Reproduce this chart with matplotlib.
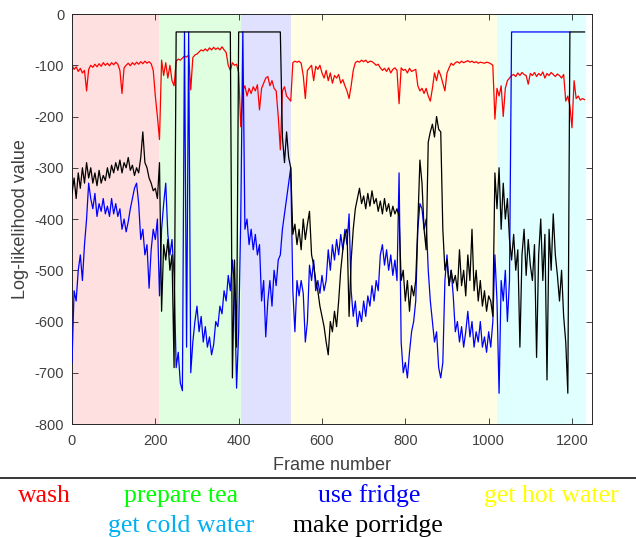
import numpy as np
import matplotlib
matplotlib.use('Agg')
import matplotlib.pyplot as plt
from matplotlib.lines import Line2D

# Frame number: one value every 5 frames
frame_step = 5

# Activity segments (start frame, end frame) and their background colour
segments = [(0, 209), (209, 406), (406, 526), (526, 1019), (1019, 1233)]
segment_colors = ['#ffe0e0', '#e0ffe0', '#e0e0ff', '#fffde3', '#e0ffff']

# Legend labels shown under the chart
labels = ['wash', 'prepare tea', 'use fridge', 'get hot water', 'get cold water', 'make porridge']
label_colors = ['#ff0000', '#00ff00', '#0000ff', '#ffff00', '#00b0f0', '#000000']

# Log-likelihood of the "wash" model
wash = [
    -100, -108, -103, -112, -106, -115, -110, -150, -108, -100,
    -104, -98, -103, -97, -102, -95, -100, -96, -101, -95,
    -99, -94, -98, -110, -155, -105, -100, -96, -101, -95,
    -99, -94, -98, -93, -97, -92, -96, -93, -97, -110,
    -160, -200, -245, -90, -120, -95, -125, -100, -130, -140,
    -92, -88, -90, -86, -82, -84, -80, -148, -85, -80,
    -78, -74, -70, -72, -68, -72, -66, -70, -65, -69,
    -66, -70, -64, -70, -75, -100, -110, -95, -100, -98,
    -114, -220, -150, -140, -160, -145, -155, -142, -150, -138,
    -187, -145, -135, -125, -122, -140, -130, -145, -150, -200,
    -265, -150, -142, -160, -165, -170, -95, -92, -94, -92,
    -96, -120, -165, -110, -105, -100, -130, -102, -108, -100,
    -115, -125, -110, -130, -115, -135, -120, -125, -118, -135,
    -128, -140, -150, -165, -140, -110, -95, -92, -94, -90,
    -93, -90, -95, -92, -93, -96, -100, -98, -105, -110,
    -106, -112, -105, -115, -108, -105, -110, -175, -105, -110,
    -108, -115, -106, -112, -110, -108, -140, -150, -145, -155,
    -145, -160, -170, -145, -115, -130, -110, -120, -135, -150,
    -115, -105, -96, -100, -95, -93, -96, -92, -95, -93,
    -91, -94, -92, -95, -93, -96, -94, -95, -96, -94,
    -95, -97, -100, -205, -145, -160, -140, -200, -145, -130,
    -125, -120, -118, -122, -115, -120, -114, -118, -120, -137,
    -116, -120, -114, -122, -116, -120, -113, -125, -116, -120,
    -114, -118, -122, -117, -120, -125, -118, -170, -160, -180,
    -222, -130, -165, -160, -168, -165, -167,
]

# Log-likelihood of the "use fridge" model
fridge = [
    -680, -540, -560, -500, -470, -520, -450, -400, -330, -360,
    -380, -350, -395, -370, -385, -360, -390, -375, -395, -360,
    -390, -370, -395, -380, -420, -400, -425, -405, -380, -360,
    -340, -330, -370, -440, -420, -470, -450, -535, -460, -420,
    -440, -400, -550, -420, -370, -330, -430, -470, -440, -510,
    -690, -660, -720, -735, -35, -650, -35, -700, -640, -600,
    -570, -620, -590, -640, -610, -650, -630, -665, -645, -600,
    -610, -570, -585, -540, -560, -510, -540, -480, -530, -730,
    -620, -400, -35, -420, -400, -450, -420, -460, -430, -470,
    -450, -560, -520, -630, -560, -520, -570, -500, -530, -480,
    -470, -420, -390, -360, -330, -300, -540, -620, -520, -550,
    -520, -545, -640, -600, -490, -520, -480, -540, -520, -545,
    -510, -540, -520, -460, -500, -450, -480, -440, -470, -430,
    -460, -420, -450, -390, -540, -590, -560, -610, -580, -600,
    -560, -590, -550, -570, -530, -560, -520, -540, -470, -450,
    -490, -460, -500, -470, -510, -480, -520, -310, -640, -700,
    -680, -710, -660, -620, -600, -560, -420, -370, -380, -420,
    -400, -500, -560, -600, -640, -620, -690, -710, -680, -520,
    -470, -530, -500, -550, -620, -600, -640, -610, -650, -620,
    -580, -630, -600, -650, -620, -640, -600, -650, -630, -660,
    -620, -650, -600, -470, -560, -740, -520, -560, -500, -600,
    -520, -35, -35, -35, -35, -35, -35, -35, -35, -35,
    -35, -35, -35, -35, -35, -35, -35, -35, -35, -35,
    -35, -35, -35, -35, -35, -35, -35, -35, -35, -35,
]

# Log-likelihood of the "make porridge" model
porridge = [
    -350, -320, -360, -310, -340, -300, -330, -290, -320, -300,
    -330, -310, -335, -305, -330, -315, -325, -300, -320, -295,
    -310, -290, -305, -285, -310, -290, -300, -280, -305, -295,
    -315, -300, -310, -280, -230, -290, -300, -320, -330, -345,
    -340, -360, -290, -580, -450, -480, -440, -500, -470, -690,
    -35, -35, -35, -35, -35, -35, -35, -35, -35, -35,
    -35, -35, -35, -35, -35, -35, -35, -35, -35, -35,
    -35, -35, -35, -35, -35, -35, -35, -710, -480, -650,
    -35, -35, -35, -35, -35, -35, -35, -35, -35, -35,
    -35, -35, -35, -35, -35, -35, -35, -35, -35, -35,
    -35, -240, -290, -230, -280, -300, -430, -410, -450, -420,
    -460, -400, -440, -410, -385, -470, -490, -520, -540, -570,
    -590, -610, -640, -665, -600, -620, -580, -610, -560, -500,
    -460, -430, -420, -590, -480, -420, -380, -360, -340, -370,
    -355, -380, -350, -375, -345, -370, -360, -385, -365, -390,
    -360, -385, -370, -395, -375, -390, -380, -395, -520, -500,
    -560, -520, -580, -530, -550, -520, -410, -285, -330, -420,
    -460, -250, -230, -215, -240, -200, -225, -230, -420, -500,
    -480, -530, -500, -525, -510, -540, -460, -530, -500, -550,
    -470, -520, -420, -540, -500, -560, -520, -570, -540, -580,
    -550, -560, -590, -310, -380, -300, -420, -330, -400, -360,
    -440, -480, -430, -500, -460, -650, -470, -420, -510, -440,
    -490, -520, -450, -670, -470, -400, -520, -430, -714, -420,
    -500, -390, -470, -510, -560, -500, -590, -640, -740, -35,
    -35, -35, -35, -35, -35, -35, -35,
]

plt.rcParams['font.family'] = ['Liberation Sans', 'DejaVu Sans']
plt.rcParams['axes.unicode_minus'] = False
fig = plt.figure(figsize=(6.36, 5.37), dpi=100)
ax = fig.add_axes([0.1132, 0.2104, 0.8176, 0.7635])

# Sfondo colorato per ogni attivita'
for (start, end), color in zip(segments, segment_colors):
    ax.axvspan(start, end, color=color, lw=0, zorder=0)

# Curve di log-likelihood
ax.plot(np.arange(len(wash)) * frame_step, wash, color='#ff0000', lw=0.9, zorder=2)
ax.plot(np.arange(len(fridge)) * frame_step, fridge, color='#0000ff', lw=0.9, zorder=3)
ax.plot(np.arange(len(porridge)) * frame_step, porridge, color='#000000', lw=0.9, zorder=4)

ax.set_xlim(0, 1248)
ax.set_ylim(-800, 0)
ax.set_xticks([0, 200, 400, 600, 800, 1000, 1200])
ax.set_yticks(np.arange(-800, 1, 100))
ax.tick_params(direction='in', top=True, right=True, length=4, width=0.6,
               labelsize=10.5, colors='#262626', labelcolor='#404040')
ax.tick_params(axis='x', pad=7.5)
ax.tick_params(axis='y', pad=5.5)
for spine in ax.spines.values():
    spine.set_color('#262626')
    spine.set_linewidth(0.7)
ax.set_xlabel('Frame number', fontsize=13, color='#404040', labelpad=6.5)
ax.set_ylabel('Log-likelihood value', fontsize=13, color='#404040', labelpad=4.5)

# Linea di separazione sopra la legenda
fig.add_artist(Line2D([0, 1], [1 - 478 / 537, 1 - 478 / 537], color='black', lw=1.1,
                      transform=fig.transFigure))

# Legenda testuale su due righe
positions = [(44, 502), (181, 502), (369, 502), (551, 502), (181, 532), (368, 532)]
for text, color, (x, y) in zip(labels, label_colors, positions):
    fig.text(x / 636, 1 - y / 537, text, color=color, fontsize=18.5, ha='center', va='baseline',
             family=['Liberation Serif', 'DejaVu Serif'])

fig.savefig('out.png', dpi=100)
